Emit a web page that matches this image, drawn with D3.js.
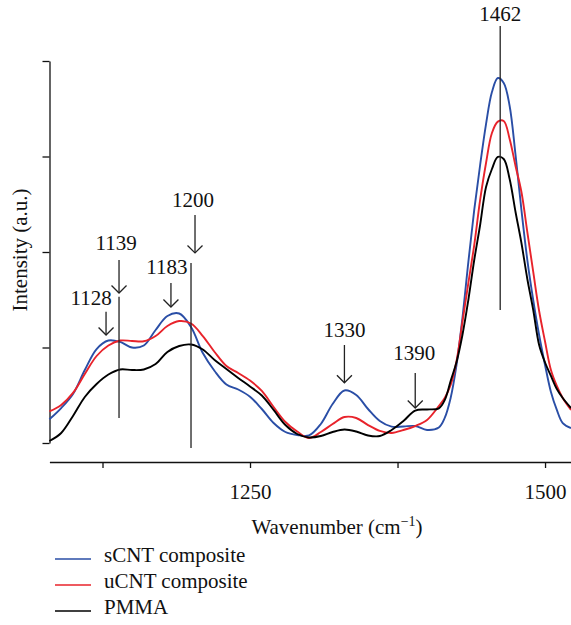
<!DOCTYPE html>
<html>
<head>
<meta charset="utf-8">
<script src="https://cdn.jsdelivr.net/npm/d3@7"></script>
<style>
  html, body { margin: 0; padding: 0; background: #fff; }
  svg { display: block; }
  text { font-family: "Liberation Serif", "DejaVu Serif", serif; fill: #111; }
</style>
</head>
<body>
<script>
// Raman spectra of PMMA and its CNT composites
const wavenumbers = [
  1080, 1090, 1100, 1110, 1120, 1130, 1140, 1150, 1160, 1170, 1180, 1190,
  1200, 1210, 1220, 1230, 1240, 1250, 1260, 1270, 1280, 1290, 1300, 1310,
  1320, 1330, 1340, 1350, 1360, 1370, 1380, 1390, 1400, 1410,
  1415, 1420, 1425, 1430, 1435, 1440, 1445, 1450, 1455, 1460, 1465, 1470,
  1475, 1480, 1485, 1490, 1495, 1500, 1505, 1510, 1515, 1522
];

const sCNT = [
  0.248, 0.366, 0.513, 0.764, 0.984, 1.073, 1.058, 1.000, 1.021, 1.183, 1.330, 1.356,
  1.215, 0.942, 0.754, 0.613, 0.560, 0.485, 0.356, 0.209, 0.115, 0.084, 0.079, 0.199,
  0.408, 0.550, 0.503, 0.356, 0.230, 0.171, 0.173, 0.178, 0.136, 0.162,
  0.262, 0.471, 0.817, 1.309, 1.895, 2.440, 2.911, 3.340, 3.675, 3.822, 3.770, 3.529,
  3.016, 2.440, 1.916, 1.497, 1.131, 0.817, 0.534, 0.346, 0.209, 0.157
];

const uCNT = [
  0.330, 0.398, 0.524, 0.723, 0.911, 1.021, 1.073, 1.068, 1.065, 1.120, 1.225, 1.277,
  1.251, 1.120, 0.953, 0.806, 0.733, 0.654, 0.545, 0.377, 0.220, 0.120, 0.052, 0.115,
  0.199, 0.272, 0.262, 0.188, 0.126, 0.105, 0.136, 0.178, 0.241, 0.387,
  0.471, 0.607, 0.859, 1.267, 1.675, 2.073, 2.545, 2.932, 3.246, 3.365, 3.372, 3.183,
  2.901, 2.628, 2.209, 1.791, 1.382, 1.063, 0.764, 0.597, 0.471, 0.346
];

const pmma = [
  0.021, 0.105, 0.283, 0.482, 0.618, 0.717, 0.770, 0.764, 0.770, 0.827, 0.953, 1.016,
  1.031, 0.979, 0.869, 0.775, 0.681, 0.592, 0.497, 0.346, 0.188, 0.094, 0.058, 0.073,
  0.115, 0.141, 0.120, 0.079, 0.073, 0.136, 0.230, 0.340, 0.351, 0.363,
  0.450, 0.649, 0.848, 1.131, 1.497, 1.916, 2.283, 2.681, 2.869, 2.995, 2.974, 2.764,
  2.419, 2.094, 1.717, 1.393, 1.026, 0.843, 0.702, 0.565, 0.471, 0.366
];

const seriesNames = ["sCNT composite", "uCNT composite", "PMMA"];
const seriesColors = ["#2a4ea6", "#e8232b", "#000000"];
const seriesValues = [sCNT, uCNT, pmma];

const xTicks = [1125, 1250, 1375, 1500];
const xTickLabels = ["", "1250", "", "1500"];
const yTicks = [0, 1, 2, 3, 4];

// Band assignments: arrows point down onto a band, bars mark a band position
const arrowBands = [1128, 1139, 1183, 1200, 1330, 1390];
const arrowTop = [1.375, 1.916, 1.675, 2.387, 1.026, 0.733];
const arrowTip = [1.131, 1.571, 1.424, 1.990, 0.631, 0.366];
const arrowLabelAt = [1.445, 2.021, 1.770, 2.474, 1.110, 0.869];
const arrowShiftPx = [0, 0, 0, 4, 0, 0];
const labelShiftPx = [-15, -3, -4, -2, 0, -1];

const barBands = [1139, 1200, 1462];
const barTop = [1.532, 1.885, 4.366];
const barBottom = [0.262, -0.052, 1.393];
const barLabel = ["", "", "1462"];
const barLabelAt = [null, null, 4.422];

const FS = 21;
const W = 571, H = 625;
const svg = d3.select("body").append("svg").attr("width", W).attr("height", H);

const x = d3.scaleLinear().domain([1080, 1522]).range([49.4, 571]);
const y = d3.scaleLinear().domain([0, 4]).range([443, 61]);

// Y axis (unlabelled ticks)
svg.append("g")
  .attr("transform", "translate(49.5,0)")
  .call(d3.axisLeft(y).tickValues(yTicks).tickFormat("").tickSize(7).tickSizeOuter(0))
  .call(g => g.selectAll("path, line").attr("stroke", "#111").attr("stroke-width", 1.3));

// X axis, drawn below the baseline
const xAxis = svg.append("g")
  .attr("transform", "translate(0,462)")
  .call(d3.axisBottom(x).tickValues(xTicks)
    .tickFormat((d, i) => xTickLabels[i]).tickSize(6).tickSizeOuter(0).tickPadding(16));
xAxis.selectAll("path, line").attr("stroke", "#111").attr("stroke-width", 1.3);
xAxis.selectAll("text").attr("font-size", FS).attr("fill", "#111")
  .style("font-family", "'Liberation Serif', serif");

// Spectra
const line = d3.line()
  .x((d, i) => x(wavenumbers[i]))
  .y(d => y(d))
  .curve(d3.curveCatmullRom.alpha(0.5));

svg.append("g").selectAll("path")
  .data(seriesValues)
  .join("path")
  .attr("d", d => line(d))
  .attr("fill", "none")
  .attr("stroke", (d, i) => seriesColors[i])
  .attr("stroke-width", 1.9);

// Band marker bars
const ann = svg.append("g").attr("stroke", "#222").attr("stroke-width", 1.3).attr("fill", "none");
barBands.forEach((b, i) => {
  ann.append("line")
    .attr("x1", x(b)).attr("x2", x(b))
    .attr("y1", y(barTop[i])).attr("y2", y(barBottom[i]));
  if (barLabel[i]) {
    svg.append("text")
      .attr("x", x(b)).attr("y", y(barLabelAt[i]))
      .attr("text-anchor", "middle").attr("font-size", FS)
      .text(barLabel[i]);
  }
});

// Arrows with band labels
arrowBands.forEach((b, i) => {
  const ax = x(b) + arrowShiftPx[i];
  const yt = y(arrowTop[i]), yb = y(arrowTip[i]);
  ann.append("line").attr("x1", ax).attr("x2", ax).attr("y1", yt).attr("y2", yb);
  ann.append("path")
    .attr("d", `M${ax - 7.5},${yb - 7.5}L${ax},${yb}L${ax + 7.5},${yb - 7.5}`)
    .attr("stroke-linejoin", "miter");
  svg.append("text")
    .attr("x", ax + labelShiftPx[i]).attr("y", y(arrowLabelAt[i]))
    .attr("text-anchor", "middle").attr("font-size", FS)
    .text(String(b));
});

// Axis titles
svg.append("text")
  .attr("transform", "translate(27,250) rotate(-90)")
  .attr("text-anchor", "middle").attr("font-size", FS)
  .text("Intensity (a.u.)");

const xt = svg.append("text")
  .attr("x", 337).attr("y", 534)
  .attr("text-anchor", "middle").attr("font-size", FS);
xt.append("tspan").text("Wavenumber (cm");
xt.append("tspan").attr("font-size", 14).attr("dy", -8).text("\u22121");
xt.append("tspan").attr("dy", 8).text(")");

// Legend
const legend = svg.append("g");
seriesNames.forEach((name, i) => {
  const ly = 559 + i * 26;
  legend.append("line")
    .attr("x1", 55).attr("x2", 91).attr("y1", ly).attr("y2", ly)
    .attr("stroke", seriesColors[i]).attr("stroke-width", 1.6);
  legend.append("text")
    .attr("x", 104).attr("y", ly + 3)
    .attr("font-size", FS)
    .text(name);
});
</script>
</body>
</html>
